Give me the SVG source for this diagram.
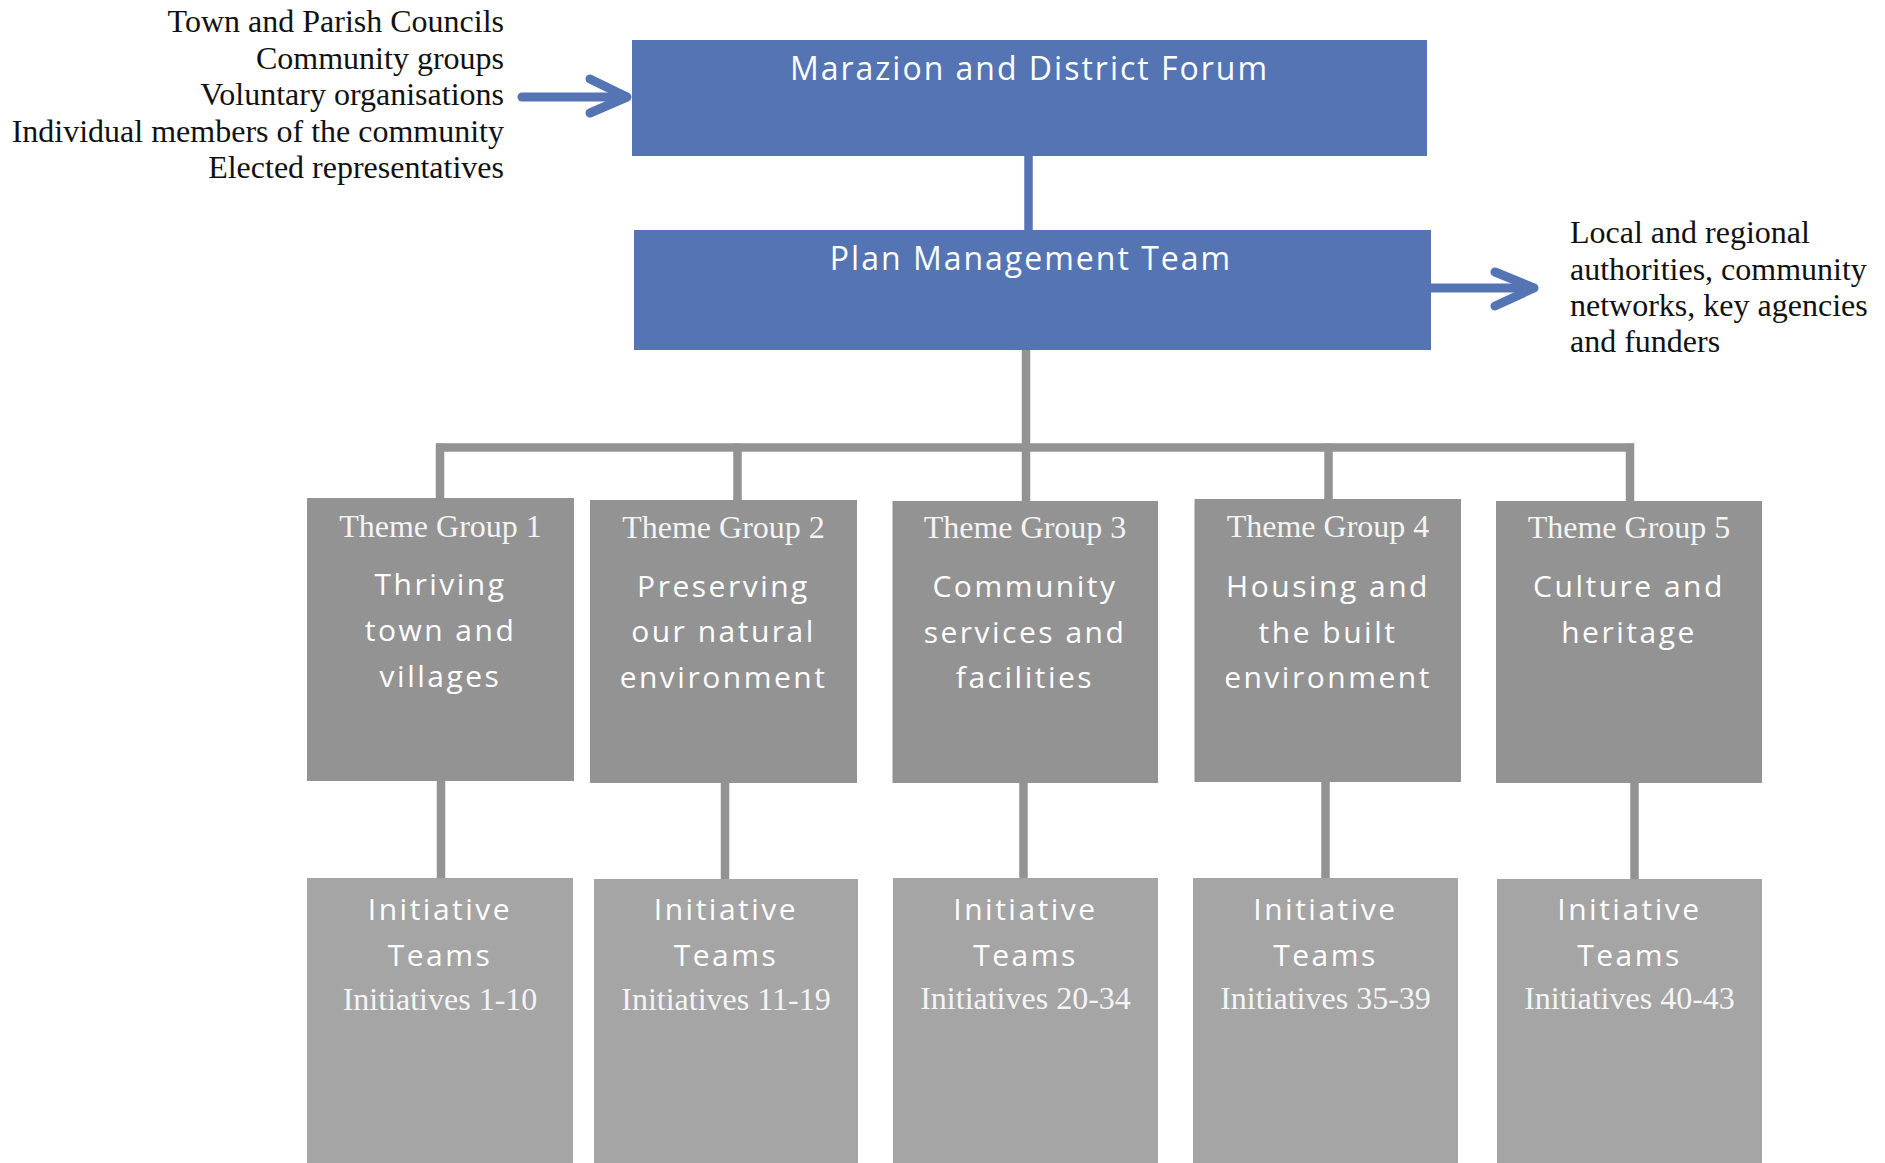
<svg xmlns="http://www.w3.org/2000/svg" width="1885" height="1163" viewBox="0 0 1885 1163">
<style>
.blue{fill:#5474B4}
.theme{fill:#939393}
.init{fill:#A5A5A5}
.serif{font-family:"Liberation Serif","Times New Roman",serif;font-size:32px}
.dark{fill:#111}
.lite{fill:#f4f4f4}
.hand{font-family:"Open Sans","Noto Sans",sans-serif;fill:#fff;text-anchor:middle}
.h32{font-size:32px;letter-spacing:2px}
.h30{font-size:30px;letter-spacing:2.5px}
.c{text-anchor:middle}
.gline{stroke:#939393;stroke-width:8.5;fill:none}
.bline{stroke:#5474B4;stroke-width:9;fill:none;stroke-linecap:round;stroke-linejoin:round}
</style>
<rect width="1885" height="1163" fill="#fff"/>

<g id="connectors">
  <line x1="1028.5" y1="155" x2="1028.5" y2="231" stroke="#5474B4" stroke-width="8.5"/>
  <path class="bline" d="M522 97 H626" stroke-linecap="butt"/>
  <path class="bline" d="M590 79 L627 97 L590 113"/>
  <path class="bline" d="M1431 288 H1533" stroke-linecap="butt"/>
  <path class="bline" d="M1495 272 L1534 288 L1495 306"/>
  <line class="gline" x1="1026" y1="349" x2="1026" y2="502"/>
  <line class="gline" x1="436" y1="447.5" x2="1634" y2="447.5"/>
  <line class="gline" x1="440" y1="443.5" x2="440" y2="499"/>
  <line class="gline" x1="737.5" y1="443.5" x2="737.5" y2="501"/>
  <line class="gline" x1="1328.5" y1="443.5" x2="1328.5" y2="500"/>
  <line class="gline" x1="1630" y1="443.5" x2="1630" y2="502"/>
  <line class="gline" x1="441" y1="780" x2="441" y2="879"/>
  <line class="gline" x1="725" y1="782" x2="725" y2="880"/>
  <line class="gline" x1="1023.5" y1="782" x2="1023.5" y2="879"/>
  <line class="gline" x1="1325.5" y1="781" x2="1325.5" y2="879"/>
  <line class="gline" x1="1634.5" y1="782" x2="1634.5" y2="880"/>
</g>

<g id="inputs">
  <text class="serif dark" text-anchor="end" x="504" y="32">Town and Parish Councils</text>
  <text class="serif dark" text-anchor="end" x="504" y="68.5">Community groups</text>
  <text class="serif dark" text-anchor="end" x="504" y="105">Voluntary organisations</text>
  <text class="serif dark" text-anchor="end" x="504" y="141.5">Individual members of the community</text>
  <text class="serif dark" text-anchor="end" x="504" y="178">Elected representatives</text>
</g>

<g id="outputs">
  <text class="serif dark" x="1570" y="243">Local and regional</text>
  <text class="serif dark" x="1570" y="280">authorities, community</text>
  <text class="serif dark" x="1570" y="316">networks, key agencies</text>
  <text class="serif dark" x="1570" y="352">and funders</text>
</g>

<g id="forum">
  <rect class="blue" x="632" y="40" width="795" height="116"/>
  <text class="hand h32" x="1029.5" y="80">Marazion and District Forum</text>
</g>

<g id="plan-team">
  <rect class="blue" x="634" y="230" width="797" height="120"/>
  <text class="hand h32" x="1031" y="270">Plan Management Team</text>
</g>

<g id="theme1">
  <rect class="theme" x="307" y="498" width="267" height="283"/>
  <text class="serif lite c" x="440.5" y="537">Theme Group 1</text>
  <text class="hand h30" x="440.5" y="595">Thriving</text>
  <text class="hand h30" x="440.5" y="641">town and</text>
  <text class="hand h30" x="440.5" y="687">villages</text>
</g>
<g id="theme2">
  <rect class="theme" x="590" y="500" width="267" height="283"/>
  <text class="serif lite c" x="723.5" y="538">Theme Group 2</text>
  <text class="hand h30" x="723.5" y="597">Preserving</text>
  <text class="hand h30" x="723.5" y="642">our natural</text>
  <text class="hand h30" x="723.5" y="688">environment</text>
</g>
<g id="theme3">
  <rect class="theme" x="892.5" y="501" width="265.5" height="282"/>
  <text class="serif lite c" x="1025" y="538">Theme Group 3</text>
  <text class="hand h30" x="1025" y="597">Community</text>
  <text class="hand h30" x="1025" y="643">services and</text>
  <text class="hand h30" x="1025" y="688">facilities</text>
</g>
<g id="theme4">
  <rect class="theme" x="1194.5" y="499" width="266.5" height="283"/>
  <text class="serif lite c" x="1328" y="537">Theme Group 4</text>
  <text class="hand h30" x="1328" y="597">Housing and</text>
  <text class="hand h30" x="1328" y="643">the built</text>
  <text class="hand h30" x="1328" y="688">environment</text>
</g>
<g id="theme5">
  <rect class="theme" x="1496" y="501" width="266" height="282"/>
  <text class="serif lite c" x="1629" y="538">Theme Group 5</text>
  <text class="hand h30" x="1629" y="597">Culture and</text>
  <text class="hand h30" x="1629" y="643">heritage</text>
</g>

<g id="initiatives1">
  <rect class="init" x="307" y="878" width="266" height="285"/>
  <text class="hand h30" x="440" y="920">Initiative</text>
  <text class="hand h30" x="440" y="966">Teams</text>
  <text class="serif lite c" x="440" y="1010">Initiatives 1-10</text>
</g>
<g id="initiatives2">
  <rect class="init" x="594" y="879" width="264" height="284"/>
  <text class="hand h30" x="726" y="920">Initiative</text>
  <text class="hand h30" x="726" y="966">Teams</text>
  <text class="serif lite c" x="726" y="1010">Initiatives 11-19</text>
</g>
<g id="initiatives3">
  <rect class="init" x="893" y="878" width="265" height="285"/>
  <text class="hand h30" x="1025.5" y="920">Initiative</text>
  <text class="hand h30" x="1025.5" y="966">Teams</text>
  <text class="serif lite c" x="1025.5" y="1009">Initiatives 20-34</text>
</g>
<g id="initiatives4">
  <rect class="init" x="1193" y="878" width="265" height="285"/>
  <text class="hand h30" x="1325.5" y="920">Initiative</text>
  <text class="hand h30" x="1325.5" y="966">Teams</text>
  <text class="serif lite c" x="1325.5" y="1009">Initiatives 35-39</text>
</g>
<g id="initiatives5">
  <rect class="init" x="1497" y="879" width="265" height="284"/>
  <text class="hand h30" x="1629.5" y="920">Initiative</text>
  <text class="hand h30" x="1629.5" y="966">Teams</text>
  <text class="serif lite c" x="1629.5" y="1009">Initiatives 40-43</text>
</g>
</svg>
